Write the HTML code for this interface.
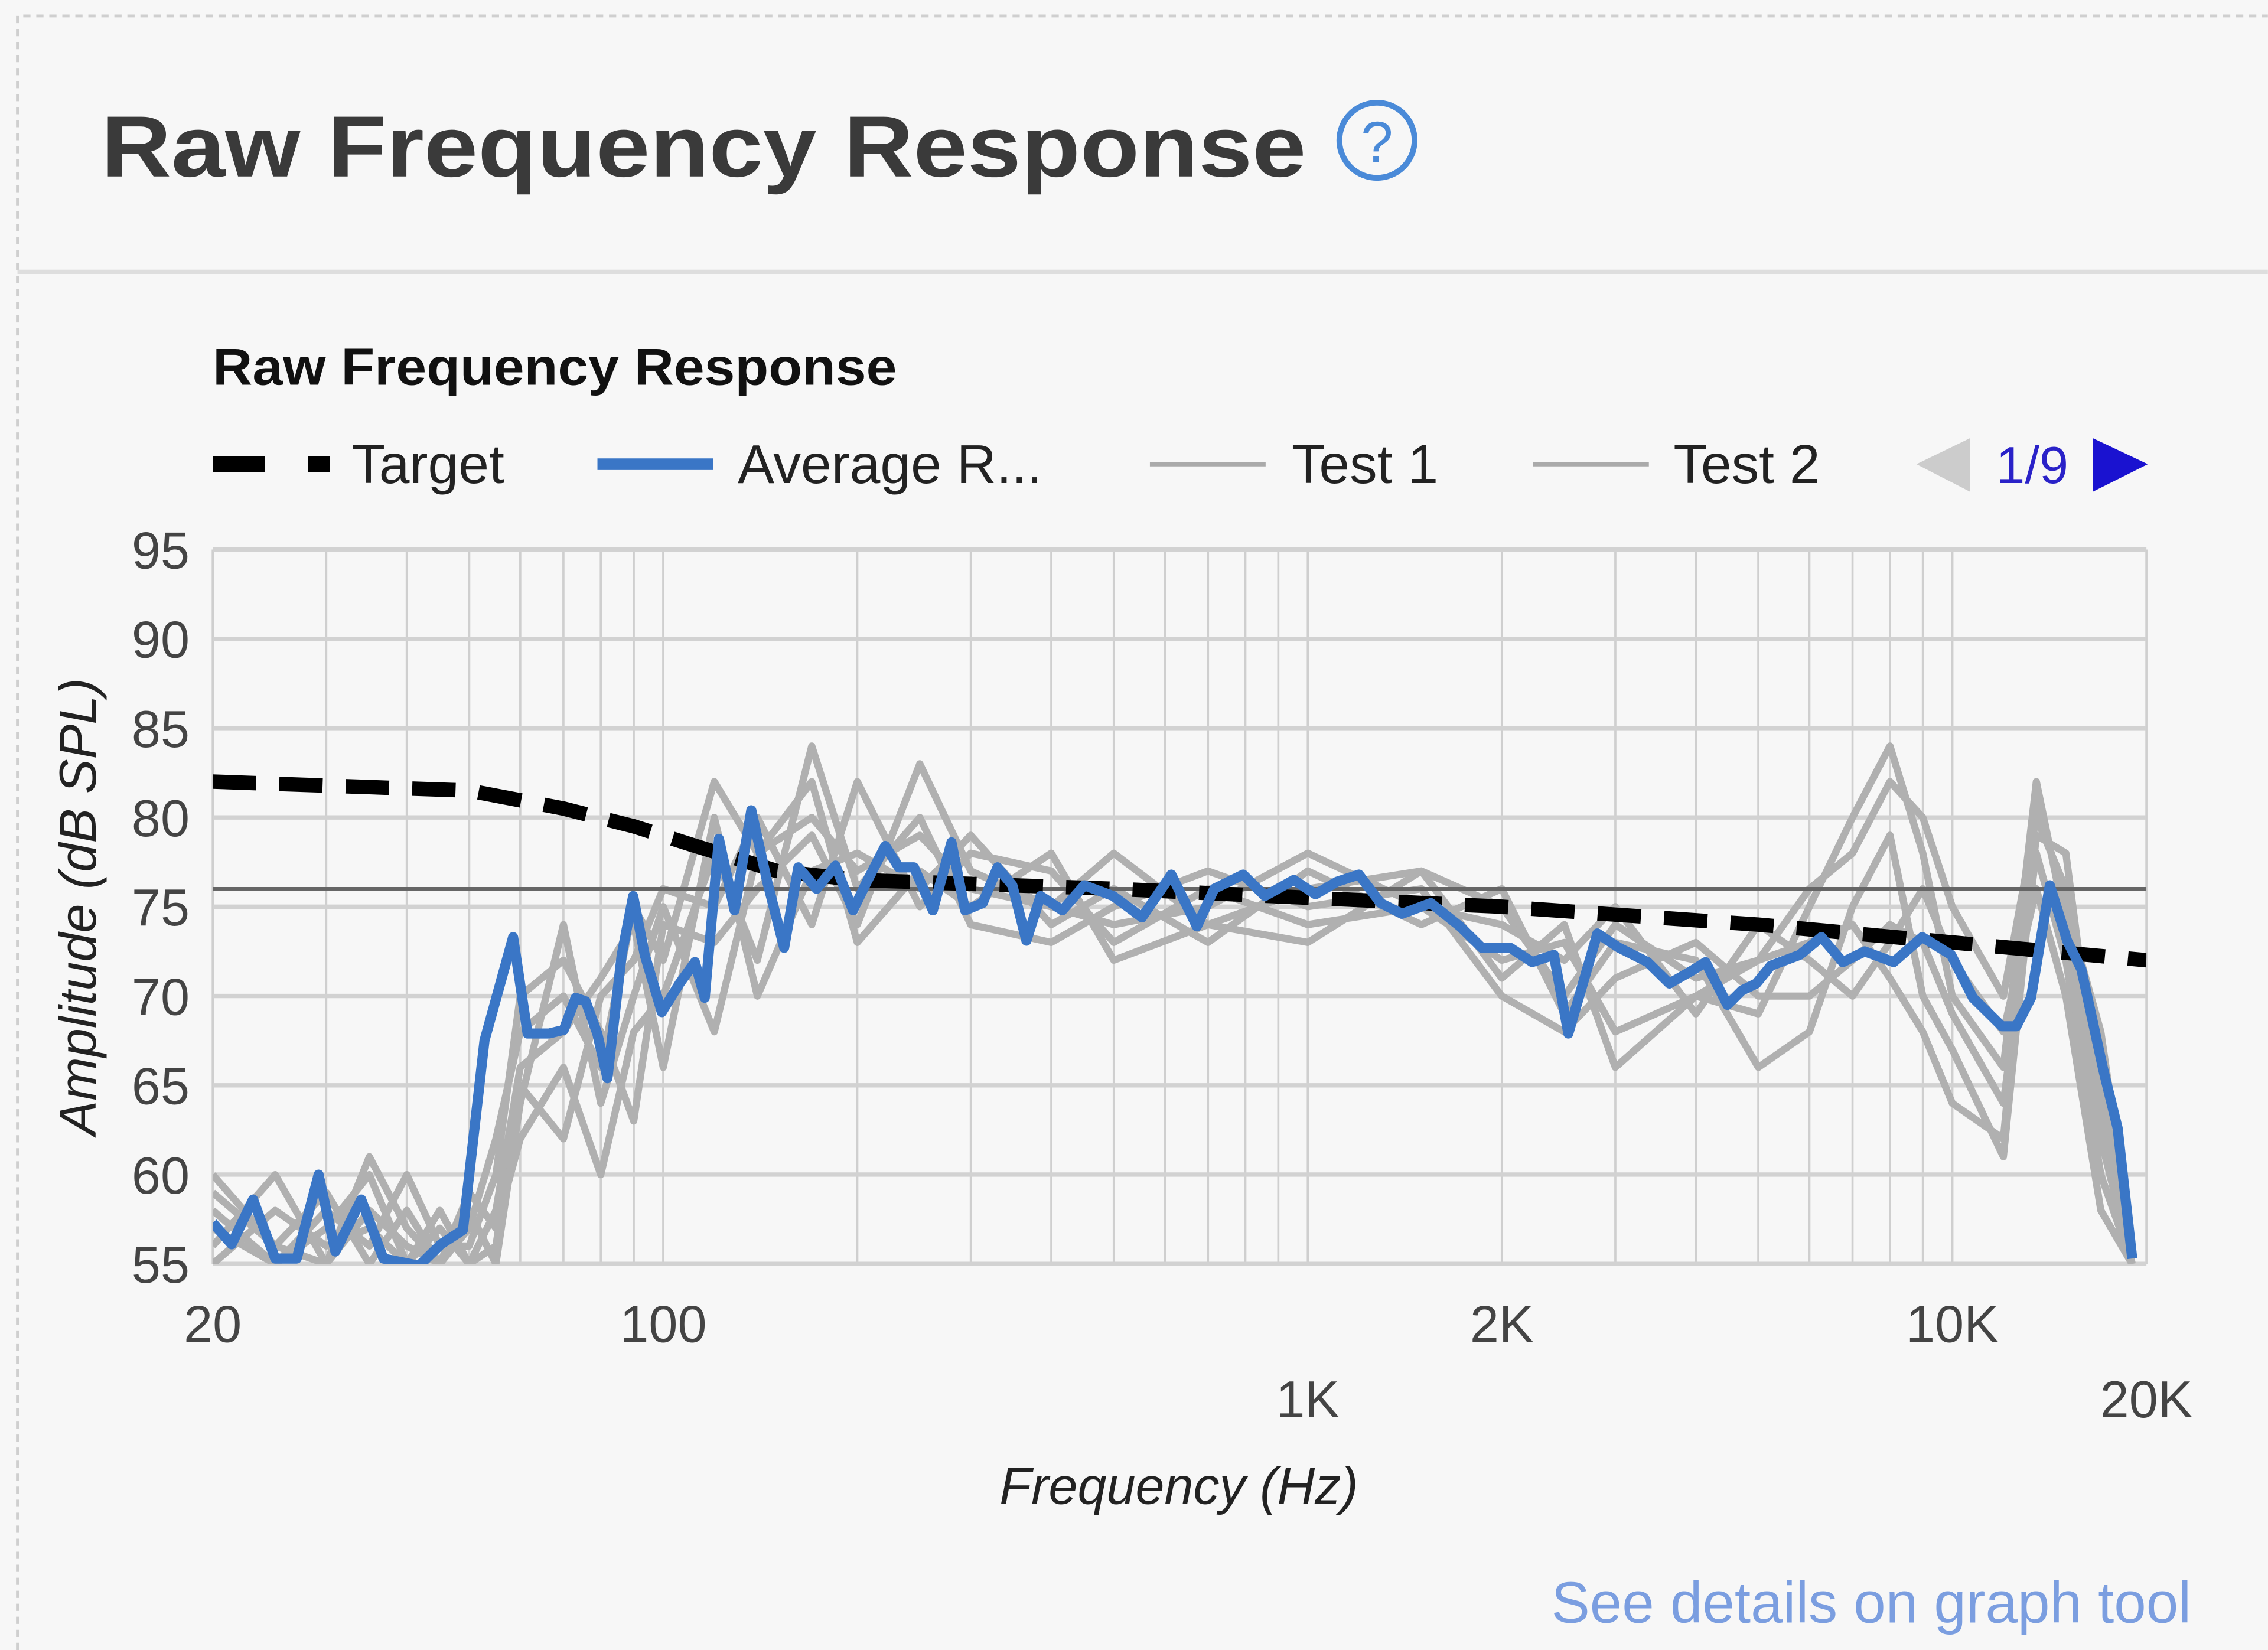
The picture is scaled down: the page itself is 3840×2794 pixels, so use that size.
<!DOCTYPE html>
<html><head><meta charset="utf-8"><style>
html,body{margin:0;padding:0;background:#f7f7f7;}
svg{display:block;font-family:"Liberation Sans",sans-serif;}
</style></head><body>
<svg id="chart" width="3840" height="2794" viewBox="0 0 1568 1141" xmlns="http://www.w3.org/2000/svg">
<rect x="0" y="0" width="1568" height="1141" fill="#f7f7f7"/>
<path d="M12 1141 V11 H1568" fill="none" stroke="#cfcfcf" stroke-width="2" stroke-dasharray="5 4"/>
<text x="70" y="122" font-size="60" font-weight="bold" fill="#3a3a3a" textLength="833" lengthAdjust="spacingAndGlyphs">Raw Frequency Response</text>
<g><circle cx="952" cy="97" r="26" fill="none" stroke="#4a8ad8" stroke-width="4"/><text x="952" y="112" font-size="40" text-anchor="middle" fill="#4a8ad8">?</text></g>
<line x1="12" y1="188" x2="1568" y2="188" stroke="#dedede" stroke-width="3"/>
<text x="147" y="266" font-size="36" font-weight="bold" fill="#111" textLength="473" lengthAdjust="spacingAndGlyphs">Raw Frequency Response</text>
<g font-size="38" fill="#222">
<g><line x1="147" y1="321" x2="228" y2="321" stroke="#000" stroke-width="11" stroke-dasharray="36 30"/><text x="243" y="334">Target</text></g>
<g><line x1="413" y1="321" x2="493" y2="321" stroke="#3a76c6" stroke-width="8"/><text x="510" y="334">Average R...</text></g>
<g><line x1="795" y1="321" x2="875" y2="321" stroke="#aaa" stroke-width="3"/><text x="893" y="334">Test 1</text></g>
<g><line x1="1060" y1="321" x2="1140" y2="321" stroke="#aaa" stroke-width="3"/><text x="1157" y="334">Test 2</text></g>
</g>
<polygon points="1362,303 1362,340 1325,321" fill="#cccccc"/>
<text x="1380" y="334" font-size="36" fill="#2a22c8">1/9</text>
<polygon points="1447,303 1447,340 1485,321" fill="#1a12d0"/>
<g id="grid"></g>
<g id="yticks" font-size="36" fill="#444" text-anchor="end"></g>
<g id="xticks" font-size="36" fill="#444" text-anchor="middle"></g>
<defs><clipPath id="plotclip"><rect x="147" y="380" width="1337" height="494"/></clipPath></defs>
<g id="series" clip-path="url(#plotclip)"></g>
<text x="815" y="1040" font-size="36" font-style="italic" fill="#222" text-anchor="middle">Frequency (Hz)</text>
<text transform="translate(66,627) rotate(-90)" font-size="36" font-style="italic" fill="#222" text-anchor="middle">Amplitude (dB SPL)</text>
<text x="1515" y="1122" font-size="40" fill="#7b9ee0" text-anchor="end">See details on graph tool</text>
</svg>
<script>
const yTicks=[55,60,65,70,75,80,85,90,95];
const xGrid=[20,30,40,50,60,70,80,90,100,200,300,400,500,600,700,800,900,1000,2000,3000,4000,5000,6000,7000,8000,9000,10000,20000];
const xLabelsTop=[[20,"20"],[100,"100"],[2000,"2K"],[10000,"10K"]];
const xLabelsBottom=[[1000,"1K"],[20000,"20K"]];
const refLevel=76;
const targetF=[20,50,70,90,110,150,200,500,1000,2000,5000,10000,20000];
const targetDb=[82,81.5,80.5,79.5,78.5,77,76.5,76,75.5,75,74,73,72];
const avgF=[20,21.4,23.1,25,27,29.2,31,34,36.8,41.8,45.2,48.9,52.8,58.5,61.6,66.5,70.1,73.1,75.8,79,81.9,86.2,89.8,93.6,99.5,106,112,116,122,129,137,145,154,162,173,185,197,207,221,232,245,262,280,294,313,330,348,366,385,416,450,499,553,614,673,716,794,858,951,1028,1110,1200,1297,1400,1552,1722,1862,2062,2229,2409,2536,2672,2813,3041,3366,3640,3935,4142,4478,4713,4965,5227,5796,6264,6763,7312,8108,8980,9955,10764,11939,12567,13240,14160,15066,15853,17141,18050,19010];
const avgDb=[57.3,56.1,58.6,55.3,55.3,60.0,55.7,58.6,55.3,54.9,56.1,56.9,67.5,73.3,67.9,67.9,68.1,69.9,69.7,67.9,65.4,72.3,75.6,72.3,69.1,70.7,71.9,69.9,78.8,74.8,80.4,76.4,72.7,77.2,76.0,77.3,74.8,76.4,78.4,77.2,77.2,74.8,78.6,74.8,75.2,77.2,76.2,73.1,75.6,74.8,76.2,75.6,74.4,76.8,73.9,76.0,76.8,75.6,76.5,75.7,76.4,76.8,75.2,74.6,75.2,73.9,72.7,72.7,71.9,72.3,67.9,70.7,73.5,72.7,71.9,70.7,71.4,71.9,69.5,70.3,70.7,71.7,72.3,73.3,71.9,72.5,71.9,73.3,72.3,69.9,68.3,68.3,69.9,76.2,73.1,71.5,65.9,62.6,55.3];
const testF=[20,25,30,35,40,45,50,55,60,70,80,90,100,120,140,170,200,250,300,400,500,700,1000,1500,2000,2500,3000,4000,5000,6000,7000,8000,9000,10000,12000,13500,15000,17000,19000];
const test1=[60,56,59,55,58,55,57,62,68,70,66,75,72,82,78,80,77,79,76,75,78,74,76,77,75,70,74,71,72,76,78,82,80,75,70,80,76,65,55];
const test2=[58,55,57,60,55,57,55,56,65,62,70,72,76,75,80,74,82,75,78,77,73,76,74,75,72,73,68,70,69,75,80,84,78,70,66,82,74,62,55];
const test3=[56,60,55,58,56,55,59,57,62,66,60,68,70,78,72,84,76,80,74,73,75,77,75,76,70,68,71,73,70,70,72,74,73,69,64,78,72,60,55];
const test4=[57,55,58,56,60,56,56,60,70,72,68,63,74,73,76,79,74,83,77,75,74,75,78,75,74,72,75,69,74,72,70,73,76,72,68,76,70,58,55];
const test5=[55,58,56,57,55,58,55,58,66,68,71,74,66,80,70,77,78,76,79,74,76,73,77,74,76,69,73,72,66,68,75,79,70,67,61,79,78,63,55];
const test6=[59,56,55,61,57,55,58,55,64,74,64,70,75,68,78,82,73,77,75,78,72,74,73,77,71,74,66,70,72,73,74,71,68,64,62,81,75,68,56];
const tests=[test1,test2,test3,test4,test5,test6];

const X0=147,X1=1484,Y0=874,Y1=380;
const xs=f=>X0+(Math.log10(f)-Math.log10(20))/3*(X1-X0);
const ys=v=>Y0-(v-55)/40*(Y0-Y1);
const NS="http://www.w3.org/2000/svg";
function mk(tag,attrs,parent){const e=document.createElementNS(NS,tag);for(const k in attrs)e.setAttribute(k,attrs[k]);parent.appendChild(e);return e;}
const grid=document.getElementById('grid');
xGrid.forEach(f=>{const l=mk('line',{x1:xs(f),x2:xs(f),y1:Y1,y2:Y0,stroke:'#cfcfcf','stroke-width':1.5},grid);

});
const yt=document.getElementById('yticks');
yTicks.forEach(v=>{const l=mk('line',{x1:X0,x2:X1,y1:ys(v),y2:ys(v),stroke:'#d2d2d2','stroke-width':3},grid);


const t=mk('text',{x:131,y:ys(v)+13},yt);t.textContent=v;

});
const xt=document.getElementById('xticks');
xLabelsTop.forEach(([f,s])=>{const t=mk('text',{x:xs(f),y:928},xt);t.textContent=s;

});
xLabelsBottom.forEach(([f,s])=>{const t=mk('text',{x:xs(f),y:980},xt);t.textContent=s;

});
const ser=document.getElementById('series');
const pts=(F,V)=>F.map((f,i)=>xs(f).toFixed(1)+','+ys(V[i]).toFixed(1)).join(' ');
tests.forEach((t,i)=>{const p=mk('polyline',{points:pts(testF,t),fill:'none',stroke:'#b0b0b0','stroke-width':5,'stroke-linejoin':'round'},ser);

});
const r=mk('line',{x1:X0,x2:X1,y1:ys(refLevel),y2:ys(refLevel),stroke:'#666','stroke-width':2.5},ser);


const tg=mk('polyline',{points:pts(targetF,targetDb),fill:'none',stroke:'#000','stroke-width':10,'stroke-dasharray':'30 16'},ser);


const av=mk('polyline',{points:pts(avgF,avgDb),fill:'none',stroke:'#3a76c6','stroke-width':7,'stroke-linejoin':'round'},ser);


</script>
</body></html>
